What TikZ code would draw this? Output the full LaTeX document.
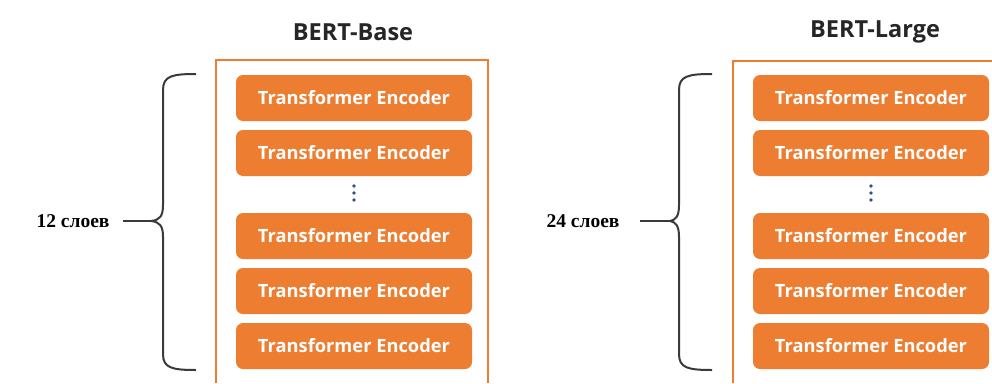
\documentclass[tikz,border=0pt]{standalone}
\usepackage{fontspec}
\setmainfont{Open Sans}
\newfontfamily\labelfont{Liberation Serif}
\definecolor{encorange}{HTML}{ED7D31}
\definecolor{dotblue}{HTML}{2F4F8F}
\definecolor{bracegray}{HTML}{3A3A3A}
\begin{document}
\begin{tikzpicture}[x=1pt,y=-1pt,
  encoder/.style={fill=encorange, draw=none, rounded corners=7pt,
    minimum width=236pt, minimum height=46pt, inner sep=0pt,
    text=white, font=\fontsize{18.3}{20}\selectfont\bfseries},
  frame/.style={draw=encorange, line width=1.3pt},
  title/.style={font=\fontsize{23.5}{26}\selectfont\bfseries, text=black!85},
  count/.style={font=\labelfont\fontsize{19.5}{22}\selectfont\bfseries, text=black},
  bracestyle/.style={draw=bracegray, line width=2pt},
  vdot/.style={circle, fill=dotblue, inner sep=0pt, minimum size=3.6pt}
]
\fill[white!98!black!2] (0,0) rectangle (992,383);
\useasboundingbox (0,0) rectangle (992,383);

% ---------- BERT-Base ----------
\node[title] (tbase) at (353,32) {BERT-Base};
\draw[frame] (216,383) -- (216,60) -- (488,60) -- (488,383);
\node[encoder] (b1) at (354,98)  {Transformer Encoder};
\node[encoder] (b2) at (354,153) {Transformer Encoder};
\node[vdot] (bd1) at (354,186) {};
\node[vdot] (bd2) at (354,193) {};
\node[vdot] (bd3) at (354,200) {};
\node[encoder] (b3) at (354,236) {Transformer Encoder};
\node[encoder] (b4) at (354,291) {Transformer Encoder};
\node[encoder] (b5) at (354,346) {Transformer Encoder};

\coordinate (bcusp) at (151,221);
\draw[bracestyle] (196,74) .. controls (172,74) and (163,76) .. (163,90)
  -- (163,205) .. controls (163,216) and (160,220) .. (bcusp)
  .. controls (160,222) and (163,226) .. (163,237)
  -- (163,354) .. controls (163,368) and (172,370) .. (196,370);
\node[count, anchor=east] (cbase) at (113,221) {12 слоев};
\draw[bracestyle] (123,221) -- (bcusp);

% ---------- BERT-Large ----------
\node[title] (tlarge) at (875,32) {BERT-Large};
\draw[frame] (733,383) -- (733,61) -- (992,61);
\node[encoder] (l1) at (871,98)  {Transformer Encoder};
\node[encoder] (l2) at (871,153) {Transformer Encoder};
\node[vdot] (ld1) at (871,186) {};
\node[vdot] (ld2) at (871,193) {};
\node[vdot] (ld3) at (871,200) {};
\node[encoder] (l3) at (871,236) {Transformer Encoder};
\node[encoder] (l4) at (871,291) {Transformer Encoder};
\node[encoder] (l5) at (871,346) {Transformer Encoder};

\coordinate (lcusp) at (670,221);
\draw[bracestyle] (712,74) .. controls (688,74) and (679,76) .. (679,90)
  -- (679,205) .. controls (679,216) and (676,220) .. (lcusp)
  .. controls (676,222) and (679,226) .. (679,237)
  -- (679,354) .. controls (679,368) and (688,370) .. (712,370);
\node[count, anchor=east] (clarge) at (623,221) {24 слоев};
\draw[bracestyle] (640,221) -- (lcusp);
\end{tikzpicture}
\end{document}
